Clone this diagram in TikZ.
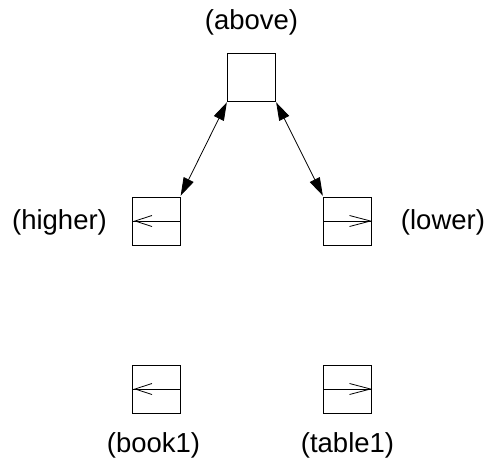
\documentclass[tikz,border=0pt]{standalone}
\usepackage{fontspec}
\setmainfont{Liberation Sans}
\usetikzlibrary{arrows.meta}
\begin{document}
\begin{tikzpicture}[x=1pt,y=-1pt,
  box/.style={draw, line width=0.9pt, minimum width=48pt, minimum height=48pt, inner sep=0pt, outer sep=0pt},
  lbl/.style={inner sep=0pt, font=\fontsize{27.5}{33}\selectfont},
  link/.style={line width=0.8pt, {Triangle[length=18pt,width=11pt]}-{Triangle[length=18pt,width=11pt]}, shorten <=1.5pt, shorten >=1.5pt},
  mid/.style={line width=0.9pt},
  vee/.style={line width=0.8pt}]
\useasboundingbox (0,0) rectangle (488,467);
\node[box] (above) at (251.5,77) {};
\node[box] (higher) at (156,221) {};
\node[box] (lower) at (347.5,221) {};
\node[box] (book1) at (156,389) {};
\node[box] (table1) at (347.5,389) {};
\node[lbl] (labove) at (251.5,22) {(above)};
\node[lbl] (lhigher) at (59.5,222) {(higher)};
\node[lbl] (llower) at (443,222) {(lower)};
\node[lbl] (lbook1) at (153.5,445) {(book1)};
\node[lbl] (ltable1) at (347.5,445) {(table1)};
\draw[link] (above.south west) -- (higher.north east);
\draw[link] (above.south east) -- (lower.north west);
\foreach \n in {higher,book1}{
  \draw[mid] (\n.west) -- (\n.east);
  \draw[vee] ([xshift=20pt,yshift=-5.5pt]\n.west) -- ([xshift=3pt]\n.west) -- ([xshift=20pt,yshift=5.5pt]\n.west);
}
\foreach \n in {lower,table1}{
  \draw[mid] (\n.west) -- (\n.east);
  \draw[vee] ([xshift=-22pt,yshift=-5.5pt]\n.east) -- ([xshift=-1pt]\n.east) -- ([xshift=-22pt,yshift=5.5pt]\n.east);
}
\end{tikzpicture}
\end{document}
